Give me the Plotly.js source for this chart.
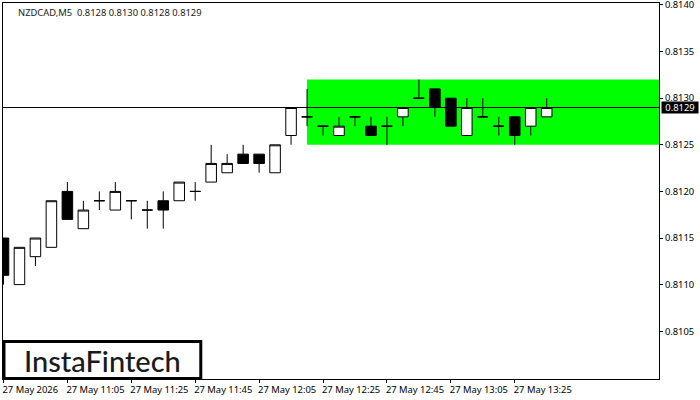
<!DOCTYPE html>
<html>
<head>
<meta charset="utf-8">
<script src="https://cdn.plot.ly/plotly-3.0.1.min.js"></script>
<style>
html, body { margin: 0; padding: 0; background: #ffffff; }
#chart { width: 700px; height: 400px; }
</style>
</head>
<body>
<div id="chart"></div>
<script>
// NZDCAD M5 bars
const bars = [0,1,2,3,4,5,6,7,8,9,10,11,12,13,14,15,16,17,18,19,20,21,22,23,24,25,26,27,28,29,30,31,32,33,34];

const opens  = [0.8115,0.8110,0.8113,0.8114,0.8120,0.8116,0.8119,0.8118,0.8119,0.8118,0.8119,0.8119,0.8120,0.8121,0.8122,0.8124,0.8124,0.8122,0.8126,0.8128,0.8127,0.8126,0.8128,0.8127,0.8127,0.8128,0.8130,0.8131,0.8130,0.8126,0.8128,0.8127,0.8128,0.8127,0.8128];
const highs  = [0.8115,0.8114,0.8115,0.8119,0.8121,0.8119,0.8120,0.8121,0.8119,0.8119,0.8120,0.8121,0.8121,0.8125,0.8124,0.8125,0.8124,0.8125,0.8129,0.8131,0.8127,0.8128,0.8128,0.8128,0.8128,0.8129,0.8132,0.8131,0.8130,0.8130,0.8130,0.8128,0.8128,0.8129,0.8130];
const lows   = [0.8110,0.8110,0.8112,0.8114,0.8117,0.8116,0.8118,0.8118,0.8117,0.8116,0.8116,0.8119,0.8119,0.8121,0.8122,0.8123,0.8122,0.8122,0.8125,0.8127,0.8126,0.8126,0.8127,0.8126,0.8125,0.8127,0.8130,0.8128,0.8127,0.8126,0.8128,0.8126,0.8125,0.8126,0.8128];
const closes = [0.8111,0.8114,0.8115,0.8119,0.8117,0.8118,0.8119,0.8120,0.8119,0.8118,0.8118,0.8121,0.8120,0.8123,0.8123,0.8123,0.8123,0.8125,0.8129,0.8128,0.8127,0.8127,0.8128,0.8126,0.8127,0.8129,0.8130,0.8129,0.8127,0.8129,0.8128,0.8127,0.8126,0.8129,0.8129];

const timeTicks  = [0,4,8,12,16,20,24,28,32];
const timeLabels = ["27 May 2026","27 May 11:05","27 May 11:25","27 May 11:45","27 May 12:05","27 May 12:25","27 May 12:45","27 May 13:05","27 May 13:25"];
const priceTicks  = [0.8105,0.8110,0.8115,0.8120,0.8125,0.8130,0.8135,0.8140];
const priceLabels = ["0.8105","0.8110","0.8115","0.8120","0.8125","0.8130","0.8135","0.8140"];

const bidPrice = 0.8129;
const zoneStart = 19;
const zoneHigh = 0.8132;
const zoneLow = 0.8125;

const chartFont = "Noto Sans, DejaVu Sans, sans-serif";

const trace = {
    type: "candlestick",
    x: bars,
    open: opens,
    high: highs,
    low: lows,
    close: closes,
    whiskerwidth: 0,
    increasing: { line: { color: "#000000", width: 1 }, fillcolor: "#ffffff" },
    decreasing: { line: { color: "#000000", width: 1 }, fillcolor: "#000000" },
    hoverinfo: "skip"
};

const layout = {
    width: 700,
    height: 400,
    margin: { l: 2.5, r: 40.5, t: 2.5, b: 21, pad: 0 },
    paper_bgcolor: "#ffffff",
    plot_bgcolor: "#ffffff",
    showlegend: false,
    boxgap: 0.34,
    boxgroupgap: 0,
    font: { family: chartFont, size: 9.4, color: "#000000" },
    xaxis: {
        type: "linear",
        range: [-0.03, 41.03],
        rangeslider: { visible: false },
        tickmode: "array",
        tickvals: timeTicks,
        ticktext: timeLabels,
        tickangle: 0,
        ticklabelposition: "outside right",
        ticklabeloverflow: "allow",
        ticklabelshift: -2,
        ticklabelstandoff: 2,
        ticks: "outside",
        ticklen: 3,
        tickwidth: 1,
        tickcolor: "#000000",
        showgrid: false,
        zeroline: false,
        showline: true,
        linecolor: "#000000",
        linewidth: 1,
        mirror: true
    },
    yaxis: {
        side: "right",
        range: [0.8099875, 0.8140214],
        tickmode: "array",
        tickvals: priceTicks,
        ticktext: priceLabels,
        ticklabeloverflow: "allow",
        ticks: "outside",
        ticklen: 3,
        tickwidth: 1,
        tickcolor: "#000000",
        showgrid: false,
        zeroline: false,
        showline: true,
        linecolor: "#000000",
        linewidth: 1,
        mirror: true
    },
    shapes: [
        // pattern zone
        { type: "rect", layer: "below", xref: "x", yref: "y", x0: zoneStart, x1: 41.03, y0: zoneLow, y1: zoneHigh,
          fillcolor: "#00ff00", line: { width: 0 } },
        // bid line
        { type: "line", layer: "above", xref: "paper", yref: "y", x0: 0, x1: 1, y0: bidPrice, y1: bidPrice,
          line: { color: "#000000", width: 1 } },
        // logo box
        { type: "rect", layer: "above", xref: "paper", yref: "paper", x0: 0.0015, x1: 0.3015, y0: 0.001, y1: 0.1,
          fillcolor: "#ffffff", line: { color: "#000000", width: 3 } }
    ],
    annotations: [
        { xref: "paper", yref: "paper", x: 0.0205, y: 0.9985, xanchor: "left", yanchor: "top", showarrow: false,
          text: "NZDCAD,M5  0.8128 0.8130 0.8128 0.8129", font: { family: chartFont, size: 9.4, color: "#1a1a1a" } },
        { xref: "paper", yref: "y", x: 1.003, y: bidPrice, xanchor: "left", yanchor: "middle", showarrow: false,
          text: "0.8129", bgcolor: "#000000", borderpad: 0, width: 36, height: 11, align: "center",
          font: { family: chartFont, size: 9.4, color: "#ffffff" } },
        { xref: "paper", yref: "paper", x: 0.1515, y: 0.05, xanchor: "center", yanchor: "middle", showarrow: false,
          text: "InstaFintech", font: { family: "Lato, sans-serif", size: 29, weight: 500, color: "#1a1a1a" } }
    ]
};

Plotly.newPlot("chart", [trace], layout, { displayModeBar: false, staticPlot: true });
</script>
</body>
</html>
